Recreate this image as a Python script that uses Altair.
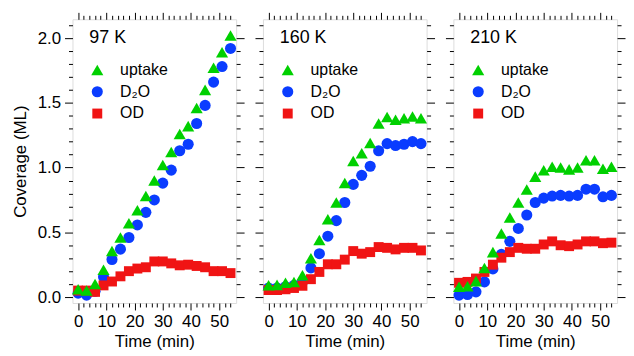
import altair as alt
import pandas as pd

time_min = [0, 3, 6, 9, 12, 15, 18, 21, 24, 27, 30, 33, 36, 39, 42, 45, 48, 51, 54]

uptake_97 = [0.06, 0.05, 0.10, 0.21, 0.355, 0.46, 0.57, 0.67, 0.78, 0.90, 1.02, 1.12, 1.26, 1.32, 1.46, 1.60, 1.77, 1.89, 2.02]
d2o_97 = [0.03, 0.015, 0.045, 0.155, 0.29, 0.37, 0.46, 0.557, 0.654, 0.75, 0.88, 0.98, 1.13, 1.18, 1.34, 1.48, 1.66, 1.78, 1.92]
od_97 = [0.05, 0.05, 0.04, 0.09, 0.12, 0.16, 0.20, 0.22, 0.23, 0.275, 0.275, 0.26, 0.245, 0.25, 0.24, 0.23, 0.20, 0.20, 0.185]

uptake_160 = [0.092, 0.094, 0.11, 0.117, 0.169, 0.30, 0.44, 0.60, 0.73, 0.88, 1.05, 1.11, 1.19, 1.34, 1.39, 1.37, 1.38, 1.395, 1.38]
d2o_160 = [0.07, 0.07, 0.08, 0.09, 0.117, 0.225, 0.335, 0.47, 0.59, 0.73, 0.87, 0.94, 1.01, 1.13, 1.185, 1.17, 1.18, 1.20, 1.185]
od_160 = [0.054, 0.054, 0.06, 0.07, 0.087, 0.138, 0.194, 0.253, 0.253, 0.289, 0.355, 0.335, 0.347, 0.386, 0.38, 0.368, 0.38, 0.38, 0.36]

uptake_210 = [0.079, 0.083, 0.123, 0.225, 0.347, 0.49, 0.615, 0.73, 0.83, 0.93, 0.98, 1.006, 1.0, 0.986, 1.0, 1.057, 1.057, 0.99, 1.006]
d2o_210 = [0.015, 0.02, 0.04, 0.117, 0.217, 0.33, 0.43, 0.53, 0.634, 0.73, 0.764, 0.78, 0.785, 0.78, 0.785, 0.833, 0.833, 0.774, 0.785]
od_210 = [0.11, 0.117, 0.143, 0.194, 0.25, 0.304, 0.347, 0.38, 0.373, 0.373, 0.406, 0.43, 0.40, 0.393, 0.406, 0.43, 0.43, 0.416, 0.42]

panel_labels = ["97 K", "160 K", "210 K"]
series_names = ["uptake", "D₂O", "OD"]
series_colors = ["#00D000", "#0A3CFF", "#F01414"]
series_shapes = ["triangle-up", "circle", "square"]
series_sizes = [150, 100, 110]

y_tick_values = [0.0, 0.1, 0.2, 0.3, 0.4, 0.5, 0.6, 0.7, 0.8, 0.9, 1.0,
                 1.1, 1.2, 1.3, 1.4, 1.5, 1.6, 1.7, 1.8, 1.9, 2.0, 2.1]
x_tick_values = [0, 2, 4, 6, 8, 10, 12, 14, 16, 18, 20, 22, 24, 26, 28,
                 30, 32, 34, 36, 38, 40, 42, 44, 46, 48, 50, 52, 54]

FONT = "Liberation Sans"
y_major = "abs(datum.value*2 - round(datum.value*2)) < 0.001"
x_major = "datum.value % 10 === 0"
y_tick = {"condition": {"test": y_major, "value": 8}, "value": 4}
x_tick = {"condition": {"test": x_major, "value": 7}, "value": 4}

x_scale = alt.Scale(domain=[-2, 56], nice=False, zero=False)
y_scale = alt.Scale(domain=[-0.046, 2.145], nice=False, zero=False)

common_axis = dict(domain=False, grid=False, tickColor="black", tickWidth=1,
                   labelColor="black", titleColor="black", labelFont=FONT,
                   titleFont=FONT, titleFontWeight="normal",
                   labelOverlap=False, labelFlush=False)


def panel(label, up, d2o, od, first):
    rows = []
    for name, vals in (("D₂O", d2o), ("OD", od), ("uptake", up)):
        for t, v in zip(time_min, vals):
            rows.append({"t": t, "v": v, "s": name})
    df = pd.DataFrame(rows)

    leg = alt.Legend(title=label, orient="none", legendX=17, legendY=10,
                     titleFontSize=18, titleFontWeight="normal", titleFont=FONT,
                     titleColor="black", labelFontSize=16, labelFont=FONT,
                     labelColor="black", symbolSize=150, symbolStrokeWidth=0,
                     rowPadding=6, labelOffset=15, titlePadding=15,
                     symbolOpacity=1)

    x_bottom = alt.Axis(values=x_tick_values, tickSize=x_tick,
                        labelExpr=f"{x_major} ? format(datum.value, 'd') : ''",
                        title="Time (min)", labelPadding=4, titlePadding=4,
                        labelFontSize=17, titleFontSize=17, **common_axis)
    if first:
        y_left = alt.Axis(values=y_tick_values, tickSize=y_tick,
                          labelExpr=f"{y_major} ? format(datum.value, '.1f') : ''",
                          title="Coverage (ML)", labelPadding=4, titlePadding=8,
                          labelFontSize=17, titleFontSize=17, **common_axis)
    else:
        y_left = alt.Axis(values=y_tick_values, tickSize=y_tick, labels=False,
                          title=None, **common_axis)
    x_top = alt.Axis(orient="top", values=x_tick_values, tickSize=x_tick,
                     labels=False, title=None, **common_axis)
    y_right = alt.Axis(orient="right", values=y_tick_values, tickSize=y_tick,
                       labels=False, title=None, **common_axis)

    base = alt.Chart(df)
    pts = base.mark_point(filled=True, opacity=1, strokeWidth=0).encode(
        x=alt.X("t:Q", scale=x_scale, axis=x_bottom),
        y=alt.Y("v:Q", scale=y_scale, axis=y_left),
        color=alt.Color("s:N", scale=alt.Scale(domain=series_names, range=series_colors), legend=leg),
        shape=alt.Shape("s:N", scale=alt.Scale(domain=series_names, range=series_shapes), legend=leg),
        size=alt.Size("s:N", scale=alt.Scale(domain=series_names, range=series_sizes), legend=None),
    )
    mirror = base.mark_point(opacity=0).encode(
        x=alt.X("t:Q", scale=x_scale, axis=x_top),
        y=alt.Y("v:Q", scale=y_scale, axis=y_right),
    )
    return alt.layer(pts, mirror).resolve_axis(x="independent", y="independent").properties(
        width=165, height=286)


p1 = panel(panel_labels[0], uptake_97, d2o_97, od_97, True)
p2 = panel(panel_labels[1], uptake_160, d2o_160, od_160, False)
p3 = panel(panel_labels[2], uptake_210, d2o_210, od_210, False)

chart = alt.hconcat(p1, p2, p3, spacing=9).resolve_scale(
    color="independent", shape="independent", size="independent"
).resolve_legend(color="independent", shape="independent", size="independent").properties(
    padding={"left": 2, "top": 2, "right": 0, "bottom": 0}
).configure_view(stroke="black", strokeWidth=1.3).configure(font=FONT)

chart.save("out.html", embed_options={"renderer": "svg", "actions": False})
